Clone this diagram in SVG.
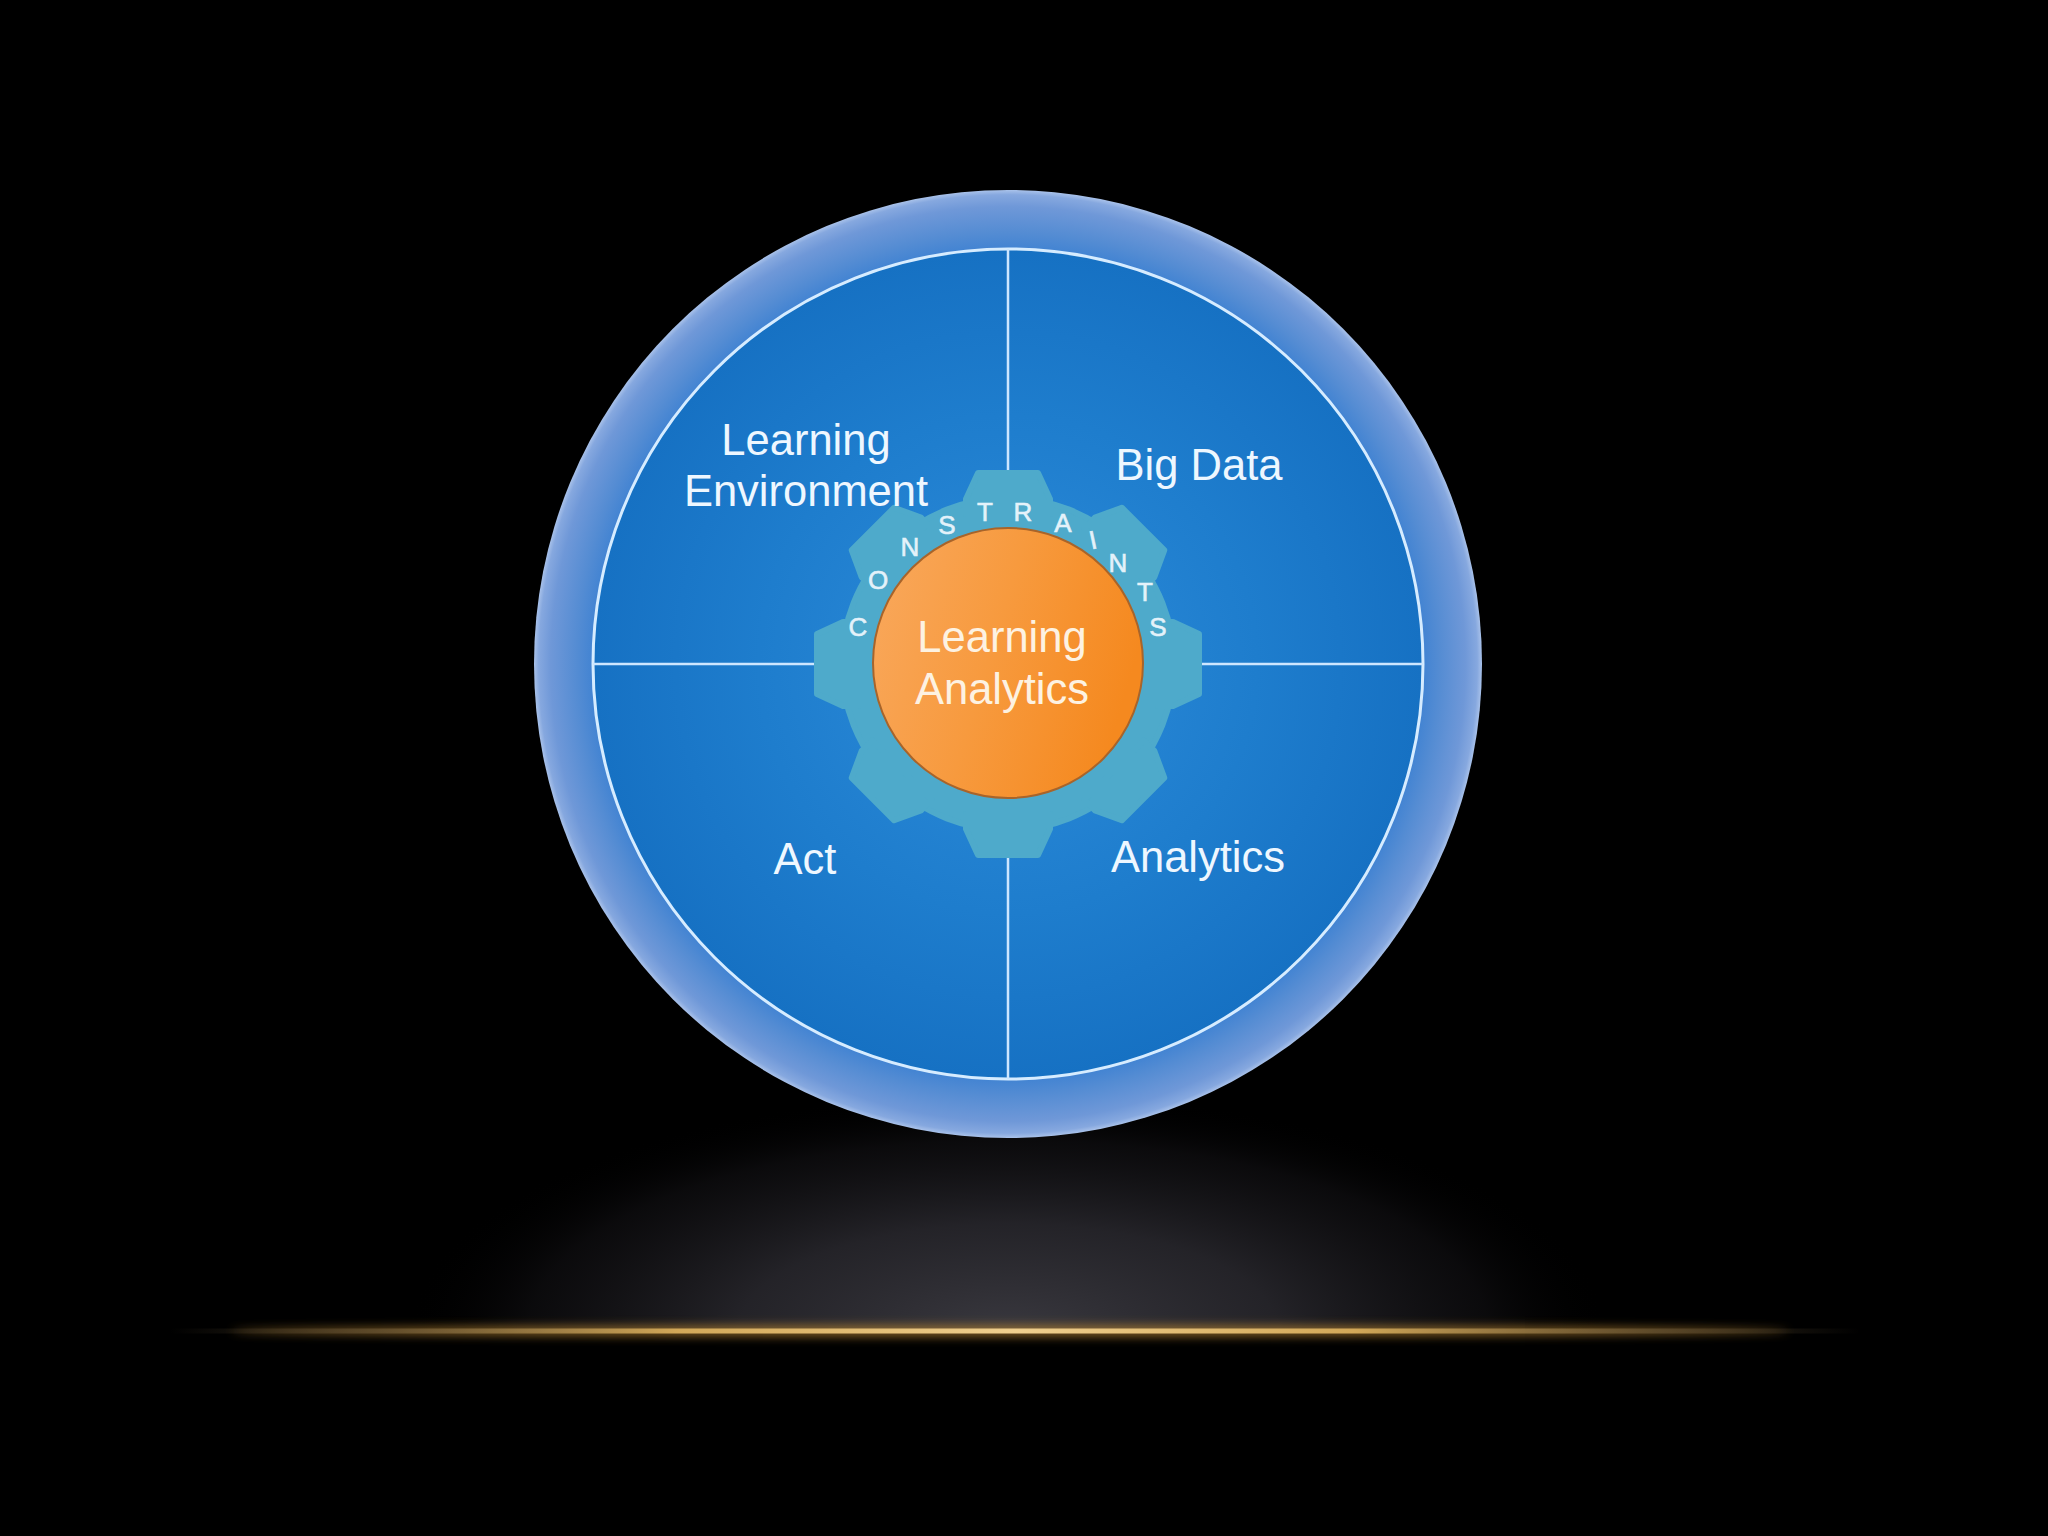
<svg xmlns="http://www.w3.org/2000/svg" width="2048" height="1536" viewBox="0 0 2048 1536">
  <defs>
    <radialGradient id="ringGrad" cx="1008" cy="664" r="474" gradientUnits="userSpaceOnUse">
      <stop offset="0.87" stop-color="#3f82d2"/>
      <stop offset="0.91" stop-color="#548cd3"/>
      <stop offset="0.965" stop-color="#6f98d8"/>
      <stop offset="0.99" stop-color="#86a8df"/>
      <stop offset="1" stop-color="#a9c2ea"/>
    </radialGradient>
    <radialGradient id="innerGrad" cx="1008" cy="664" r="415" gradientUnits="userSpaceOnUse">
      <stop offset="0" stop-color="#2d8cda"/>
      <stop offset="0.6" stop-color="#1e7dcd"/>
      <stop offset="1" stop-color="#1671c3"/>
    </radialGradient>
    <linearGradient id="orangeGrad" x1="0" y1="0.1" x2="1" y2="0.4">
      <stop offset="0" stop-color="#f9a85c"/>
      <stop offset="0.5" stop-color="#f79a3e"/>
      <stop offset="1" stop-color="#f5891f"/>
    </linearGradient>
    <radialGradient id="domeGrad" cx="1008" cy="1332" r="600" gradientUnits="userSpaceOnUse" gradientTransform="translate(1008 1332) scale(1 0.4) translate(-1008 -1332)">
      <stop offset="0" stop-color="#3c3b42" stop-opacity="0.95"/>
      <stop offset="0.45" stop-color="#2a292f" stop-opacity="0.85"/>
      <stop offset="0.8" stop-color="#121114" stop-opacity="0.6"/>
      <stop offset="1" stop-color="#000000" stop-opacity="0"/>
    </radialGradient>
    <linearGradient id="goldGrad" x1="170" y1="0" x2="1860" y2="0" gradientUnits="userSpaceOnUse">
      <stop offset="0" stop-color="#6a5a40" stop-opacity="0"/>
      <stop offset="0.12" stop-color="#7a6440" stop-opacity="0.5"/>
      <stop offset="0.3" stop-color="#d2a858"/>
      <stop offset="0.5" stop-color="#efcf8e"/>
      <stop offset="0.7" stop-color="#d2a858"/>
      <stop offset="0.88" stop-color="#7a6440" stop-opacity="0.5"/>
      <stop offset="1" stop-color="#6a5a40" stop-opacity="0"/>
    </linearGradient>
    <filter id="blur8" x="-10%" y="-400%" width="120%" height="900%">
      <feGaussianBlur stdDeviation="5"/>
    </filter>
    <clipPath id="aboveLine">
      <rect x="0" y="0" width="2048" height="1332"/>
    </clipPath>
    <polygon id="tooth" points="150,-42 165,-42 191,-30 191,30 165,42 150,42"/>
    <style>
      .lbl { font-family: "Liberation Sans", Arial, sans-serif; font-size: 43.5px; fill: #eef7ff; text-anchor: middle; }
      .ctr { font-family: "Liberation Sans", Arial, sans-serif; font-size: 43.5px; fill: #fdf2e2; text-anchor: middle; }
      .ltr { font-family: "Liberation Sans", Arial, sans-serif; font-size: 26px; fill: #e4f2fa; stroke: #e4f2fa; stroke-width: 0.6; text-anchor: middle; }
      .div { stroke: #cde6ff; stroke-width: 2.5; fill: none; }
      .gear { fill: #4eaacb; stroke: #4eaacb; stroke-width: 6; stroke-linejoin: round; }
    </style>
  </defs>

  <rect x="0" y="0" width="2048" height="1536" fill="#000000"/>

  <g id="floor-glow">
    <ellipse cx="1008" cy="1332" rx="600" ry="240" fill="url(#domeGrad)" clip-path="url(#aboveLine)"/>
    <ellipse cx="1010" cy="1331" rx="780" ry="6" fill="#b08030" opacity="0.7" filter="url(#blur8)"/>
    <rect x="170" y="1328.5" width="1690" height="5" rx="2.5" fill="url(#goldGrad)"/>
  </g>

  <g id="outer-ring">
    <circle cx="1008" cy="664" r="474" fill="url(#ringGrad)"/>
  </g>

  <g id="quadrants">
    <circle cx="1008" cy="664" r="415" fill="url(#innerGrad)" stroke="#d6ecff" stroke-width="3"/>
  </g>

  <g id="connectors">
    <line class="div" x1="1008" y1="249" x2="1008" y2="1079"/>
    <line class="div" x1="593" y1="664" x2="1423" y2="664"/>
  </g>

  <g id="constraints-gear">
    <g class="gear" transform="translate(1008 664)">
      <circle cx="0" cy="0" r="166"/>
      <use href="#tooth" transform="rotate(0)"/>
      <use href="#tooth" transform="rotate(45)"/>
      <use href="#tooth" transform="rotate(90)"/>
      <use href="#tooth" transform="rotate(135)"/>
      <use href="#tooth" transform="rotate(180)"/>
      <use href="#tooth" transform="rotate(225)"/>
      <use href="#tooth" transform="rotate(270)"/>
      <use href="#tooth" transform="rotate(315)"/>
    </g>
    <text class="ltr" x="858" y="636">C</text>
    <text class="ltr" x="878" y="589">O</text>
    <text class="ltr" x="910" y="556">N</text>
    <text class="ltr" x="947" y="534">S</text>
    <text class="ltr" x="985" y="521">T</text>
    <text class="ltr" x="1023" y="521">R</text>
    <text class="ltr" x="1063" y="532">A</text>
    <text class="ltr" x="1093" y="549" transform="rotate(-12 1093 540)">I</text>
    <text class="ltr" x="1118" y="572">N</text>
    <text class="ltr" x="1145" y="601">T</text>
    <text class="ltr" x="1158" y="636">S</text>
  </g>

  <g id="learning-analytics">
    <circle cx="1008" cy="663" r="135" fill="url(#orangeGrad)" stroke="#a8642a" stroke-width="2"/>
    <text class="ctr" x="1002" y="652">Learning</text>
    <text class="ctr" x="1002" y="704">Analytics</text>
  </g>

  <g id="learning-environment">
    <text class="lbl" x="806" y="455">Learning</text>
    <text class="lbl" x="806" y="506">Environment</text>
  </g>

  <g id="big-data">
    <text class="lbl" x="1199" y="480">Big Data</text>
  </g>

  <g id="act">
    <text class="lbl" x="805" y="874">Act</text>
  </g>

  <g id="analytics">
    <text class="lbl" x="1198" y="872">Analytics</text>
  </g>
</svg>
